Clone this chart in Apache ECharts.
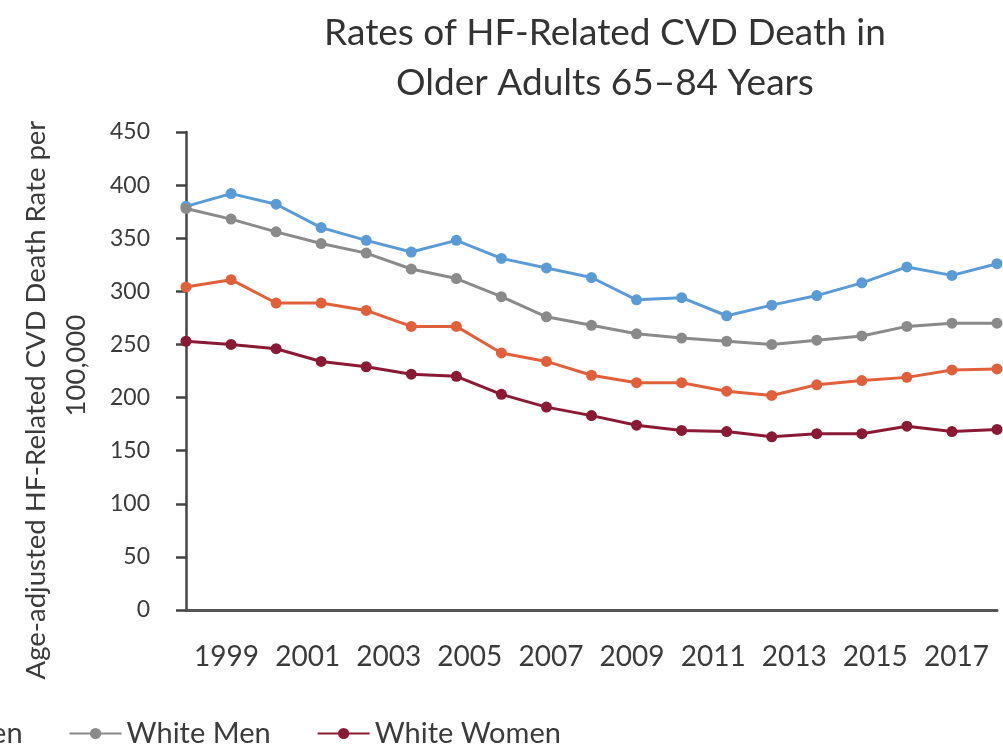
<!DOCTYPE html>
<html>
<head>
<meta charset="utf-8">
<script src="https://cdn.jsdelivr.net/npm/echarts@6/dist/echarts.min.js"></script>
<style>
  html, body { margin: 0; padding: 0; background: #ffffff; }
  #chart { width: 1003px; height: 745px; }
</style>
</head>
<body>
<div id="chart"></div>
<script>
// Years plotted (one point per year)
const years = ['1999','2000','2001','2002','2003','2004','2005','2006','2007','2008',
               '2009','2010','2011','2012','2013','2014','2015','2016','2017'];
// Labels shown under the axis
const tickLabels = ['1999','2001','2003','2005','2007','2009','2011','2013','2015','2017'];

// Age-adjusted HF-related CVD death rate per 100,000, ages 65–84
const blackMen   = [380, 392, 382, 360, 348, 337, 348, 331, 322, 313, 292, 294, 277, 287, 296, 308, 323, 315, 326];
const whiteMen   = [378, 368, 356, 345, 336, 321, 312, 295, 276, 268, 260, 256, 253, 250, 254, 258, 267, 270, 270];
const blackWomen = [304, 311, 289, 289, 282, 267, 267, 242, 234, 221, 214, 214, 206, 202, 212, 216, 219, 226, 227];
const whiteWomen = [253, 250, 246, 234, 229, 222, 220, 203, 191, 183, 174, 169, 168, 163, 166, 166, 173, 168, 170];

const FONT = 'Lato, "Open Sans", sans-serif';
const TEXT = '#3b3b3b';

const chart = echarts.init(document.getElementById('chart'), null, { renderer: 'canvas' });

function lineSeries(name, data, color) {
  return {
    name: name,
    type: 'line',
    data: data,
    xAxisIndex: 0,
    symbol: 'circle',
    symbolSize: 11,
    lineStyle: { color: color, width: 3 },
    itemStyle: { color: color },
    emphasis: { disabled: true },
    animation: false
  };
}

chart.setOption({
  backgroundColor: '#ffffff',
  title: {
    text: 'Rates of HF-Related CVD Death in\nOlder Adults 65–84 Years',
    left: 600,
    top: 3,
    textAlign: 'center',
    textStyle: { fontFamily: FONT, fontSize: 37, fontWeight: 'normal', color: '#333333', lineHeight: 50 }
  },
  legend: {
    top: 714,
    left: -454,
    itemWidth: 52,
    itemHeight: 14,
    itemGap: 46,
    data: ['Black Men', 'Black Women', 'White Men', 'White Women'],
    textStyle: { fontFamily: FONT, fontSize: 29, color: TEXT }
  },
  grid: { left: 186, right: 6, top: 132, bottom: 135, containLabel: false },
  xAxis: [
    {
      type: 'category',
      data: years,
      boundaryGap: false,
      axisLine: { show: true, lineStyle: { color: '#555555', width: 3 } },
      axisTick: { show: false },
      axisLabel: { show: false },
      splitLine: { show: false }
    },
    {
      type: 'category',
      data: tickLabels,
      boundaryGap: true,
      position: 'bottom',
      axisLine: { show: false },
      axisTick: { show: false },
      axisLabel: { show: true, interval: 0, margin: 33, fontFamily: FONT, fontSize: 28, color: TEXT },
      splitLine: { show: false }
    }
  ],
  yAxis: {
    type: 'value',
    min: 0,
    max: 450,
    interval: 50,
    name: '{a|Age-adjusted HF-Related CVD Death Rate per}\n{b|100,000}',
    nameLocation: 'middle',
    nameRotate: 90,
    nameGap: 90,
    nameTextStyle: {
      fontFamily: FONT, fontSize: 27.5, color: TEXT, lineHeight: 40,
      rich: {
        a: { fontFamily: FONT, fontSize: 27.5, color: TEXT, lineHeight: 40, padding: [0, 58, 0, 0] },
        b: { fontFamily: FONT, fontSize: 27.5, color: TEXT, lineHeight: 40, padding: [0, 0, 0, 11] }
      }
    },
    axisLine: { show: true, lineStyle: { color: '#444444', width: 2.5 } },
    axisTick: { show: true, inside: false, length: 10, lineStyle: { color: '#444444', width: 2.5 } },
    axisLabel: { margin: 36, fontFamily: FONT, fontSize: 23, color: TEXT },
    splitLine: { show: false }
  },
  series: [
    lineSeries('Black Men', blackMen, '#5b9bd5'),
    lineSeries('White Men', whiteMen, '#8a8a8a'),
    lineSeries('Black Women', blackWomen, '#e0603c'),
    lineSeries('White Women', whiteWomen, '#8a1a34')
  ]
});
</script>
</body>
</html>
